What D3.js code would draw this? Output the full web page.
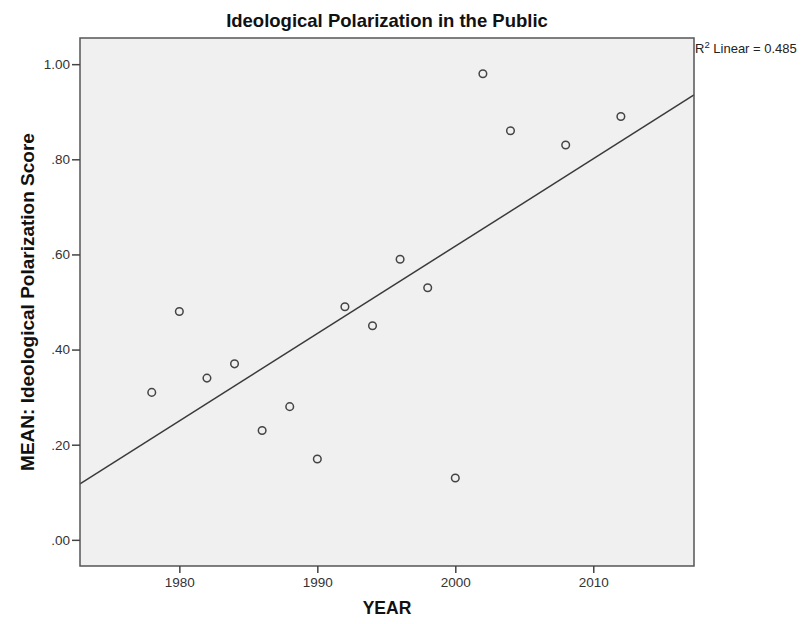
<!DOCTYPE html>
<html lang="en">
<head>
    <meta charset="UTF-8">
    <title>Ideological Polarization in the Public</title>
    <style>
        body { margin: 0; background: #fff; }
        text { font-family: "Liberation Sans", Arial, sans-serif; }
    </style>
</head>
<body>
    <script src="https://d3js.org/d3.v7.min.js"></script>
    <script>
        // data
        var years = [1978, 1980, 1982, 1984, 1986, 1988, 1990, 1992, 1994, 1996, 1998, 2000, 2002, 2004, 2008, 2012];
        var scores = [0.31, 0.48, 0.34, 0.37, 0.23, 0.28, 0.17, 0.49, 0.45, 0.59, 0.53, 0.13, 0.98, 0.86, 0.83, 0.89];
        var xTicks = [1980, 1990, 2000, 2010];
        var yTicks = [0, 0.2, 0.4, 0.6, 0.8, 1.0];
        var yTickLabels = [".00", ".20", ".40", ".60", ".80", "1.00"];
        var r2Label = "0.485";

        var w = 804, h = 624;
        var margin = {top: 38, right: 110, bottom: 58, left: 80};

        var svg = d3.select("body")
            .append("svg")
            .attr("width", w)
            .attr("height", h);

        var xScale = d3.scaleLinear()
            .domain([1972.8, 2017.3])
            .range([margin.left, w - margin.right]);

        var yScale = d3.scaleLinear()
            .domain([-0.055, 1.055])
            .range([h - margin.bottom, margin.top]);

        // plot area
        svg.append("rect")
            .attr("x", margin.left)
            .attr("y", margin.top)
            .attr("width", w - margin.left - margin.right)
            .attr("height", h - margin.top - margin.bottom)
            .attr("fill", "#f0f0f0");

        // linear fit
        var mx = d3.mean(years), my = d3.mean(scores);
        var sxy = d3.sum(years, function(d, i) { return (d - mx) * (scores[i] - my); });
        var sxx = d3.sum(years, function(d) { return (d - mx) * (d - mx); });
        var slope = sxy / sxx;
        var icpt = my - slope * mx;
        var ends = xScale.domain();

        svg.append("line")
            .attr("x1", xScale(ends[0]))
            .attr("y1", yScale(icpt + slope * ends[0]))
            .attr("x2", xScale(ends[1]))
            .attr("y2", yScale(icpt + slope * ends[1]))
            .attr("stroke", "#3a3a3a")
            .attr("stroke-width", 1.5);

        svg.selectAll(".dot")
            .data(years)
            .enter()
            .append("circle")
            .attr("class", "dot")
            .attr("cx", function(d) { return xScale(d); })
            .attr("cy", function(d, i) { return yScale(scores[i]); })
            .attr("r", 3.8)
            .attr("fill", "none")
            .attr("stroke", "#444")
            .attr("stroke-width", 1.5);

        // frame
        svg.append("rect")
            .attr("x", margin.left)
            .attr("y", margin.top)
            .attr("width", w - margin.left - margin.right)
            .attr("height", h - margin.top - margin.bottom)
            .attr("fill", "none")
            .attr("stroke", "#555")
            .attr("stroke-width", 1.5);

        var xAxis = d3.axisBottom(xScale)
            .tickValues(xTicks)
            .tickFormat(d3.format("d"))
            .tickSize(7)
            .tickSizeOuter(0)
            .tickPadding(4);

        var yAxis = d3.axisLeft(yScale)
            .tickValues(yTicks)
            .tickFormat(function(d, i) { return yTickLabels[i]; })
            .tickSize(8)
            .tickSizeOuter(0)
            .tickPadding(2);

        var gx = svg.append("g")
            .attr("transform", "translate(0," + (h - margin.bottom) + ")")
            .call(xAxis);
        var gy = svg.append("g")
            .attr("transform", "translate(" + margin.left + ",0)")
            .call(yAxis);

        [gx, gy].forEach(function(g) {
            g.select(".domain").remove();
            g.selectAll(".tick line").attr("stroke", "#444").attr("stroke-width", 1.5);
            g.selectAll(".tick text")
                .attr("fill", "#333")
                .style("font-family", "'Liberation Sans', Arial, sans-serif")
                .style("font-size", "13.5px");
        });

        svg.append("text")
            .attr("x", (margin.left + w - margin.right) / 2)
            .attr("y", 27)
            .attr("text-anchor", "middle")
            .style("font-size", "18.5px")
            .style("font-weight", "bold")
            .attr("fill", "#111")
            .text("Ideological Polarization in the Public");

        svg.append("text")
            .attr("x", (margin.left + w - margin.right) / 2)
            .attr("y", 614)
            .attr("text-anchor", "middle")
            .style("font-size", "17.5px")
            .style("font-weight", "bold")
            .attr("fill", "#111")
            .text("YEAR");

        svg.append("text")
            .attr("transform", "translate(34," + ((margin.top + h - margin.bottom) / 2) + ") rotate(-90)")
            .attr("text-anchor", "middle")
            .style("font-size", "19px")
            .style("font-weight", "bold")
            .attr("fill", "#111")
            .text("MEAN: Ideological Polarization Score");

        var r2 = svg.append("text")
            .attr("x", w - margin.right + 1)
            .attr("y", 53)
            .style("font-size", "13px")
            .attr("fill", "#222");
        r2.append("tspan").text("R");
        r2.append("tspan").attr("dy", -5).style("font-size", "9.5px").text("2");
        r2.append("tspan").attr("dy", 5).text(" Linear = " + r2Label);
    </script>
</body>
</html>
